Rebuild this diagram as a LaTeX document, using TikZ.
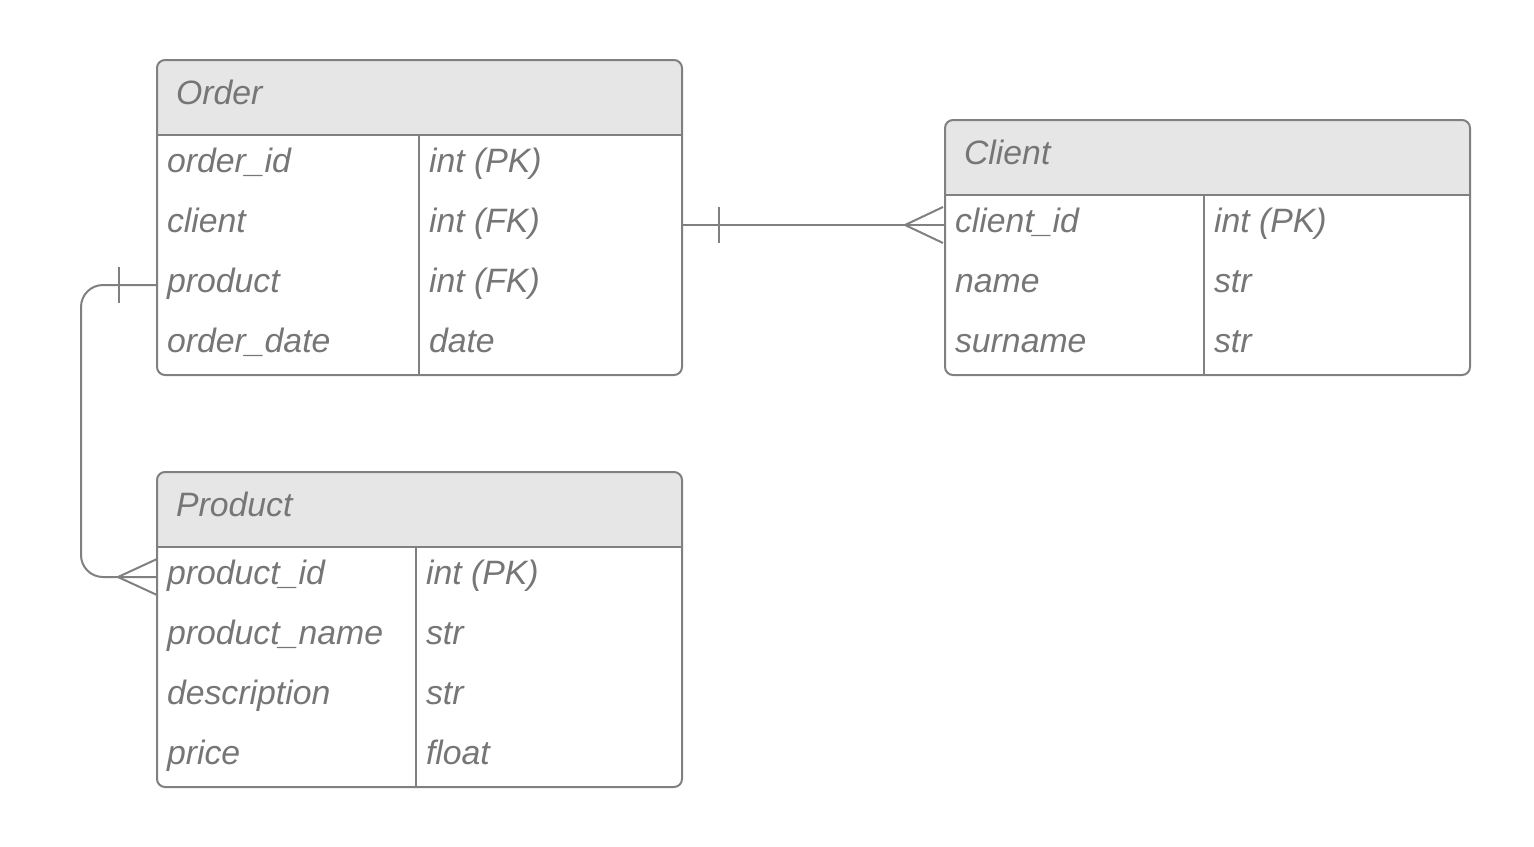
\documentclass[tikz,border=0pt]{standalone}
\usepackage{fontspec}
\setmainfont{Liberation Sans}
\usetikzlibrary{calc}
\definecolor{linegray}{RGB}{128,128,128}
\definecolor{textgray}{RGB}{118,118,118}
\definecolor{headgray}{RGB}{230,230,230}

\begin{document}
\begin{tikzpicture}[
    x=0.5pt, y=-0.5pt,
    line width=1pt,
    font=\fontsize{16.9}{20}\selectfont\itshape,
    tbl/.style={draw=linegray, rounded corners=4pt, inner sep=0pt, outer sep=0pt, anchor=north west},
    title/.style={anchor=base west, inner sep=0pt, text=textgray},
    field/.style={anchor=base west, inner sep=0pt, text=textgray},
    rel/.style={draw=linegray, line width=1pt}
]
    \useasboundingbox (0,0) rectangle (1534,846);

    % Table frames: name / left / top / column divider / rows
    \foreach \tb/\x/\y/\dv/\n in {order/157/60/419/4, client/945/120/1204/3, product/157/472/416/4} {
        % header band
        \fill[headgray, rounded corners=4pt] (\x,\y) rectangle ++(525,75);
        \fill[headgray] (\x,\y+40) rectangle ++(525,35);
        \node[tbl, minimum width=262.5pt, minimum height={(75+60*\n)*0.5pt}] (\tb) at (\x,\y) {};
        \coordinate (\tb-head) at (\x,\y+37.5);
        \draw[linegray] ($(\tb.north west)+(0,75)$) -- ($(\tb.north east)+(0,75)$);
        \draw[linegray] (\dv,\y+75) -- (\dv,\y+75+60*\n);
        % row centres, at the frame and at the divider
        \foreach \r in {1,...,\n} {
            \coordinate (\tb-\r) at (\x,\y+45+60*\r);
            \coordinate (\tb-div\r) at (\dv,\y+45+60*\r);
        }
    }

    % Titles
    \node[title] (order-title) at ($(order-head)+(18,7)$) {Order};
    \node[title] (client-title) at ($(client-head)+(18,7)$) {Client};
    \node[title] (product-title) at ($(product-head)+(18,7)$) {Product};

    % Fields
    \foreach \r/\f/\t in {1/order\_id/int (PK), 2/client/int (FK), 3/product/int (FK), 4/order\_date/date} {
        \node[field] (order-f\r) at ($(order-\r)+(9,7)$) {\f};
        \node[field] (order-t\r) at ($(order-div\r)+(9,7)$) {\t};
    }
    \foreach \r/\f/\t in {1/client\_id/int (PK), 2/name/str, 3/surname/str} {
        \node[field] (client-f\r) at ($(client-\r)+(9,7)$) {\f};
        \node[field] (client-t\r) at ($(client-div\r)+(9,7)$) {\t};
    }
    \foreach \r/\f/\t in {1/product\_id/int (PK), 2/product\_name/str, 3/description/str, 4/price/float} {
        \node[field] (product-f\r) at ($(product-\r)+(9,7)$) {\f};
        \node[field] (product-t\r) at ($(product-div\r)+(9,7)$) {\t};
    }

    % Order.client -- Client (one to many)
    \draw[rel] (order-2 -| order.east) -- (client-1);
    \draw[rel] ($(order-2 -| order.east)+(37,-18)$) -- ++(0,36);
    \draw[rel] ($(client-1)+(-40,0)$) -- ++(38,-18);
    \draw[rel] ($(client-1)+(-40,0)$) -- ++(38,18);

    % Order.product -- Product (one to many)
    \draw[rel, rounded corners=11pt] (order-3) -- ++(-76,0) |- (product-1);
    \draw[rel] ($(order-3)+(-38,-18)$) -- ++(0,36);
    \draw[rel] ($(product-1)+(-39,0)$) -- ++(39,-18);
    \draw[rel] ($(product-1)+(-39,0)$) -- ++(39,18);

\end{tikzpicture}
\end{document}
